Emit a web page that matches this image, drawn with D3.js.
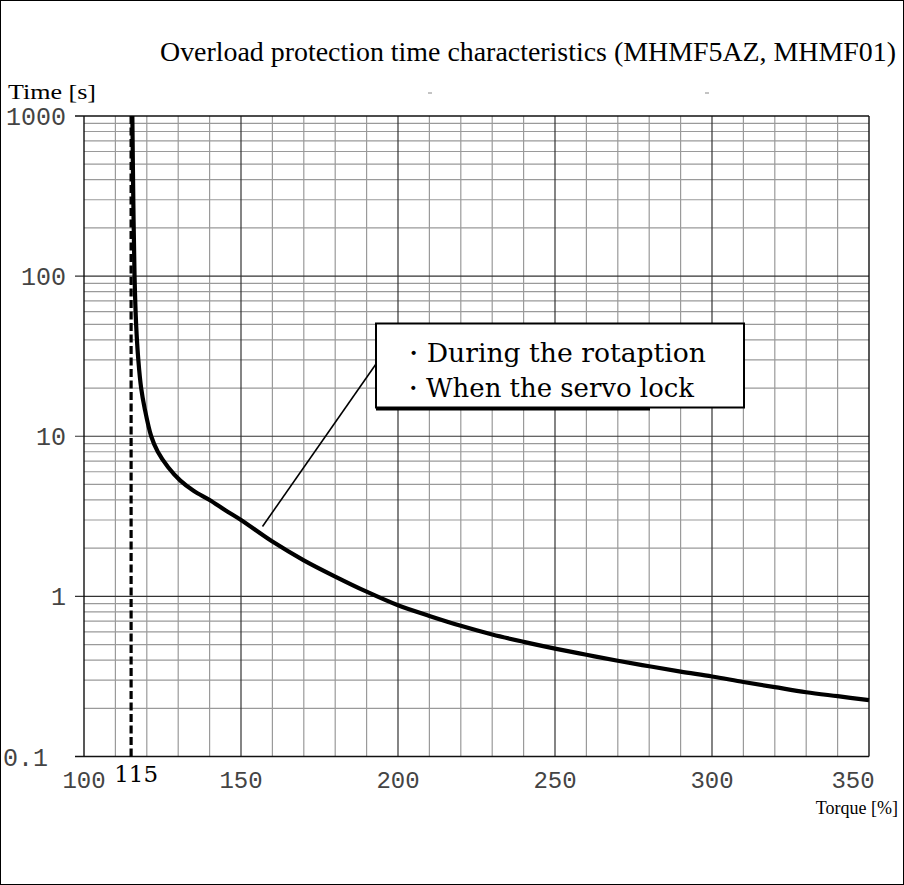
<!DOCTYPE html>
<html>
<head>
<meta charset="utf-8">
<script src="https://cdn.jsdelivr.net/npm/d3@7"></script>
<style>
  html, body { margin: 0; padding: 0; background: #fff; }
  svg { display: block; }
</style>
</head>
<body>
<script>
// ---- data ----
const torque = [115.4, 115.7, 116.1, 116.6, 117.3, 118.2, 119.3, 121.4, 123.5, 126.8, 130.6, 135.0, 140.0, 145.0, 150.0, 160.0, 170.0, 180.0, 190.0, 200.0, 210.0, 220.0, 230.0, 240.0, 250.0, 260.0, 270.0, 280.0, 290.0, 300.0, 310.0, 320.0, 330.0, 340.0, 350.0];
const timeSec = [1000, 300, 100, 50, 30, 20, 15, 10, 8.0, 6.4, 5.3, 4.55, 4.0, 3.45, 3.0, 2.2, 1.68, 1.33, 1.07, 0.88, 0.755, 0.655, 0.578, 0.52, 0.472, 0.432, 0.396, 0.366, 0.339, 0.316, 0.292, 0.271, 0.252, 0.238, 0.225];
const xTickLabels = [100, 150, 200, 250, 300, 350];
const yTickLabels = [1000, 100, 10, 1, 0.1];
const thresholdTorque = 115;
const annotationLines = ["・During the rotaption", "・When the servo lock"];
const titleText = "Overload protection time characteristics (MHMF5AZ, MHMF01)";

const W = 904, H = 885;
const svg = d3.select("body").append("svg").attr("width", W).attr("height", H);

// frame
svg.append("rect").attr("x", 0.5).attr("y", 0.5).attr("width", W - 1).attr("height", H - 1)
  .attr("fill", "#fff").attr("stroke", "#000").attr("stroke-width", 1);

const x = d3.scaleLinear().domain([100, 350]).range([84, 869]);
const y = d3.scaleLog().domain([0.1, 1000]).range([756.5, 116]);

// minor vertical grid (every 10%)
const xMinor = d3.range(110, 350, 10).filter(v => v % 50 !== 0);
const xMajor = [150, 200, 250, 300];
svg.append("g").selectAll("line").data(xMinor).join("line")
  .attr("x1", d => x(d)).attr("x2", d => x(d)).attr("y1", y(1000)).attr("y2", y(0.1))
  .attr("stroke", "#9a9a9a").attr("stroke-width", 1.2);

// minor horizontal grid
const yMinor = [];
[0.1, 1, 10, 100].forEach(dec => { for (let k = 2; k <= 9; k++) yMinor.push(dec * k); });
svg.append("g").selectAll("line").data(yMinor).join("line")
  .attr("x1", x(100)).attr("x2", x(350)).attr("y1", d => y(d)).attr("y2", d => y(d))
  .attr("stroke", "#9a9a9a").attr("stroke-width", 1.2);

// major vertical
svg.append("g").selectAll("line").data(xMajor).join("line")
  .attr("x1", d => x(d)).attr("x2", d => x(d)).attr("y1", y(1000)).attr("y2", y(0.1))
  .attr("stroke", "#333").attr("stroke-width", 1.2);

// major horizontal (decades) with left tick extension
svg.append("g").selectAll("line").data([100, 10, 1]).join("line")
  .attr("x1", x(100) - 9).attr("x2", x(350)).attr("y1", d => y(d)).attr("y2", d => y(d))
  .attr("stroke", "#333").attr("stroke-width", 1.2);

// plot border
svg.append("line").attr("x1", x(100) - 9).attr("x2", x(350)).attr("y1", y(1000)).attr("y2", y(1000)).attr("stroke", "#111").attr("stroke-width", 1.4);
svg.append("line").attr("x1", x(100) - 9).attr("x2", x(350)).attr("y1", y(0.1)).attr("y2", y(0.1)).attr("stroke", "#111").attr("stroke-width", 1.4);
svg.append("line").attr("x1", x(100)).attr("x2", x(100)).attr("y1", y(1000)).attr("y2", y(0.1)).attr("stroke", "#111").attr("stroke-width", 1.4);
svg.append("line").attr("x1", x(350)).attr("x2", x(350)).attr("y1", y(1000)).attr("y2", y(0.1)).attr("stroke", "#111").attr("stroke-width", 1.4);

// y tick labels
svg.append("g").selectAll("text").data(yTickLabels).join("text")
  .attr("x", d => d === 0.1 ? 48 : 66).attr("y", d => y(d)).attr("dy", "0.36em")
  .attr("text-anchor", "end")
  .attr("font-family", "'Liberation Mono', monospace").attr("font-size", 25)
  .attr("fill", "#444")
  .text(d => String(d));

// x tick labels
svg.append("g").selectAll("text").data(xTickLabels).join("text")
  .attr("x", d => x(d) - (d === 350 ? 16 : 0)).attr("y", 788)
  .attr("text-anchor", "middle")
  .attr("font-family", "'Liberation Mono', monospace").attr("font-size", 24)
  .attr("fill", "#444")
  .text(d => String(d));

// threshold dashed line
svg.append("line")
  .attr("x1", x(thresholdTorque)).attr("x2", x(thresholdTorque))
  .attr("y1", y(1000)).attr("y2", y(0.1))
  .attr("stroke", "#000").attr("stroke-width", 3.2).attr("stroke-dasharray", "8,3.5");

svg.append("text").attr("x", x(thresholdTorque) + 5).attr("y", 782)
  .attr("text-anchor", "middle")
  .attr("font-family", "'DejaVu Serif', serif").attr("font-size", 23)
  .attr("fill", "#000").text(String(thresholdTorque));

// curve
const pts = torque.map((t, i) => [t, timeSec[i]]);
const line = d3.line().x(d => x(d[0])).y(d => y(d[1])).curve(d3.curveCatmullRom.alpha(0.5));
svg.append("path").datum(pts).attr("d", line)
  .attr("fill", "none").attr("stroke", "#000").attr("stroke-width", 4.2)
  .attr("stroke-linejoin", "round");

// leader line
svg.append("line").attr("x1", 262.5).attr("y1", 526.5).attr("x2", 376).attr("y2", 364)
  .attr("stroke", "#000").attr("stroke-width", 1.6);

// annotation box
svg.append("line").attr("x1", 376).attr("x2", 650).attr("y1", 409).attr("y2", 409)
  .attr("stroke", "#000").attr("stroke-width", 3);
svg.append("rect").attr("x", 376).attr("y", 323.5).attr("width", 368).attr("height", 84)
  .attr("fill", "#fff").attr("stroke", "#000").attr("stroke-width", 2);
svg.append("g").selectAll("text").data(annotationLines).join("text")
  .attr("x", 400).attr("y", (d, i) => 362 + i * 35)
  .attr("font-family", "'DejaVu Serif', serif").attr("font-size", 26)
  .attr("textLength", (d, i) => i === 0 ? 306 : 294).attr("lengthAdjust", "spacingAndGlyphs")
  .attr("fill", "#000").text(d => d);

// small stray marks present in the source image
svg.append("g").selectAll("line").data([430, 707]).join("line")
  .attr("x1", d => d - 2).attr("x2", d => d + 2).attr("y1", 93).attr("y2", 93)
  .attr("stroke", "#888").attr("stroke-width", 1);

// title and axis titles
svg.append("text").attr("x", 528).attr("y", 61).attr("text-anchor", "middle")
  .attr("font-family", "'Liberation Serif', 'Times New Roman', serif").attr("font-size", 27)
  .attr("textLength", 736).attr("lengthAdjust", "spacingAndGlyphs")
  .attr("fill", "#000").text(titleText);
svg.append("text").attr("x", 8).attr("y", 99)
  .attr("font-family", "'Liberation Serif', 'Times New Roman', serif").attr("font-size", 20)
  .attr("textLength", 88).attr("lengthAdjust", "spacingAndGlyphs")
  .attr("fill", "#000").text("Time [s]");
svg.append("text").attr("x", 898).attr("y", 814).attr("text-anchor", "end")
  .attr("font-family", "'Liberation Serif', 'Times New Roman', serif").attr("font-size", 18)
  .attr("fill", "#000").text("Torque [%]");
</script>
</body>
</html>
